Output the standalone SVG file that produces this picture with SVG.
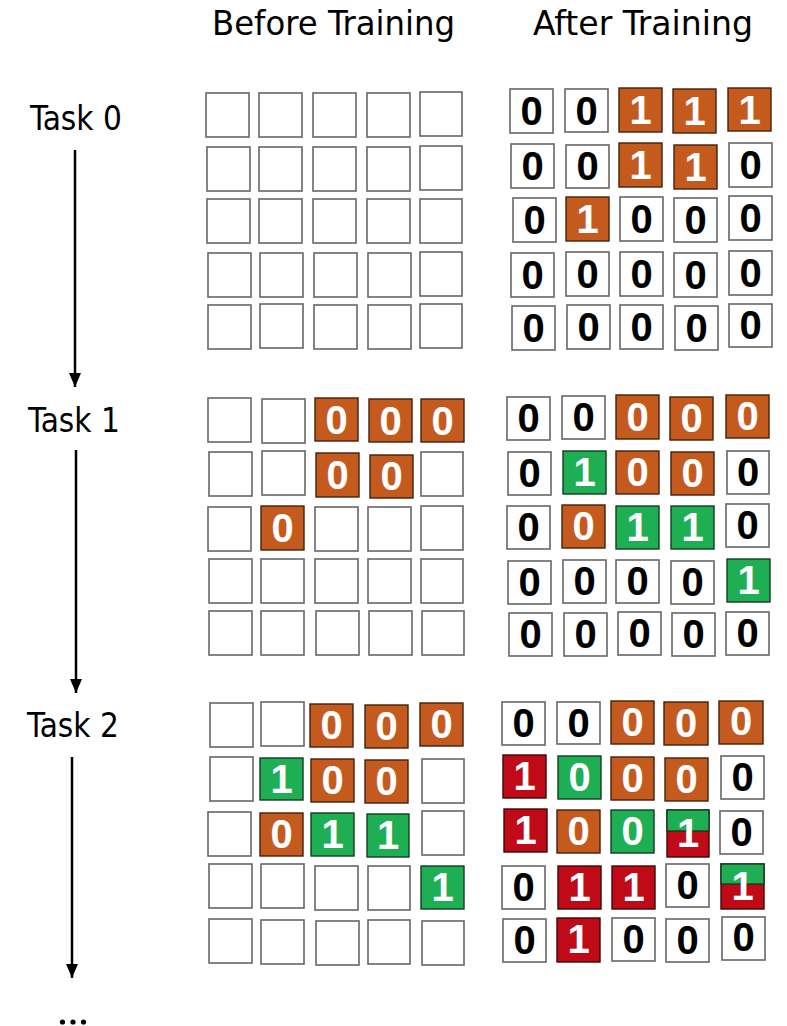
<svg xmlns="http://www.w3.org/2000/svg" width="787" height="1026" viewBox="0 0 787 1026">
<style>
.c{fill:#fff;stroke:#666;stroke-width:1.6}
.o{fill:#C55A1F;stroke:#40220c;stroke-width:1.4}
.g{fill:#1EAF55;stroke:#173a22;stroke-width:1.4}
.r{fill:#C00A17;stroke:#3a0808;stroke-width:1.4}
.n{font-family:"Liberation Sans",Arial,Helvetica,sans-serif;font-size:40px;font-weight:bold;text-anchor:middle}
.k{fill:#000}
.w{fill:#fff}
.lab{font-family:"DejaVu Sans Condensed","DejaVu Sans",sans-serif;font-size:34px;fill:#000}
.task{font-family:"DejaVu Sans Condensed","DejaVu Sans",sans-serif;font-size:33px;fill:#000}
.arr{stroke:#000;stroke-width:2.5;fill:none}
</style>
<defs>
<marker id="ah" markerWidth="15" markerHeight="13" refX="14" refY="6" orient="auto" markerUnits="userSpaceOnUse"><path d="M0,0 L14,6 L0,12 z" fill="#000"/></marker>
</defs>
<rect width="787" height="1026" fill="#fff"/>

<g id="headers">
<text class="lab" x="212" y="35" textLength="243" lengthAdjust="spacingAndGlyphs">Before Training</text>
<text class="lab" x="533" y="35" textLength="220" lengthAdjust="spacingAndGlyphs">After Training</text>
</g>
<g id="task0-label"><text class="task" x="30" y="130">Task 0</text></g>
<g id="task1-label"><text class="task" x="28" y="432">Task 1</text></g>
<g id="task2-label"><text class="task" x="27" y="737">Task 2</text></g>
<g id="ellipsis"><circle cx="62.5" cy="1022" r="2.6"/><circle cx="73" cy="1022" r="2.6"/><circle cx="83.5" cy="1022" r="2.6"/></g>

<g id="connectors">
<line class="arr" x1="75" y1="150" x2="75" y2="387" marker-end="url(#ah)"/>
<line class="arr" x1="76" y1="450" x2="76" y2="693" marker-end="url(#ah)"/>
<line class="arr" x1="72" y1="757" x2="72" y2="978" marker-end="url(#ah)"/>
</g>

<!-- Task 0 before -->
<g id="t0-before">
<g id="t0b-r1"><rect class="c" x="206" y="93" width="43" height="44"/><rect class="c" x="259" y="93" width="43" height="44"/><rect class="c" x="313" y="93" width="43" height="44"/><rect class="c" x="367" y="93" width="43" height="44"/><rect class="c" x="420" y="92" width="42" height="44"/></g>
<g id="t0b-r2"><rect class="c" x="207" y="147" width="43" height="44"/><rect class="c" x="259" y="147" width="43" height="44"/><rect class="c" x="313" y="147" width="43" height="44"/><rect class="c" x="367" y="147" width="43" height="44"/><rect class="c" x="420" y="146" width="42" height="44"/></g>
<g id="t0b-r3"><rect class="c" x="207" y="199" width="43" height="44"/><rect class="c" x="259" y="199" width="43" height="44"/><rect class="c" x="313" y="199" width="43" height="44"/><rect class="c" x="367" y="199" width="43" height="44"/><rect class="c" x="420" y="199" width="42" height="44"/></g>
<g id="t0b-r4"><rect class="c" x="208" y="253" width="43" height="44"/><rect class="c" x="260" y="253" width="43" height="44"/><rect class="c" x="314" y="253" width="43" height="44"/><rect class="c" x="368" y="253" width="43" height="44"/><rect class="c" x="420" y="252" width="42" height="44"/></g>
<g id="t0b-r5"><rect class="c" x="208" y="305" width="43" height="44"/><rect class="c" x="260" y="304" width="43" height="44"/><rect class="c" x="314" y="305" width="43" height="44"/><rect class="c" x="368" y="305" width="43" height="44"/><rect class="c" x="420" y="304" width="42" height="44"/></g>
</g>

<!-- Task 0 after -->
<g id="t0-after">
<g id="t0a-r1c1"><rect class="c" x="510" y="89" width="43" height="44"/><text class="n k" x="531.5" y="125">0</text></g>
<g id="t0a-r1c2"><rect class="c" x="565" y="89" width="43" height="43"/><text class="n k" x="586.5" y="125">0</text></g>
<g id="t0a-r1c3"><rect class="o" x="619" y="88" width="43" height="44"/><text class="n w" x="640.5" y="124">1</text></g>
<g id="t0a-r1c4"><rect class="o" x="673" y="89" width="43" height="44"/><text class="n w" x="694.5" y="125">1</text></g>
<g id="t0a-r1c5"><rect class="o" x="728" y="88" width="43" height="43"/><text class="n w" x="749.5" y="124">1</text></g>
<g id="t0a-r2c1"><rect class="c" x="511" y="144" width="43" height="44"/><text class="n k" x="532.5" y="180">0</text></g>
<g id="t0a-r2c2"><rect class="c" x="566" y="145" width="43" height="43"/><text class="n k" x="587.5" y="180">0</text></g>
<g id="t0a-r2c3"><rect class="o" x="619" y="143" width="43" height="44"/><text class="n w" x="640.5" y="179">1</text></g>
<g id="t0a-r2c4"><rect class="o" x="674" y="145" width="43" height="44"/><text class="n w" x="695.5" y="181">1</text></g>
<g id="t0a-r2c5"><rect class="c" x="729" y="143" width="43" height="44"/><text class="n k" x="750.5" y="179">0</text></g>
<g id="t0a-r3c1"><rect class="c" x="513" y="198" width="43" height="44"/><text class="n k" x="534.5" y="234">0</text></g>
<g id="t0a-r3c2"><rect class="o" x="566" y="197" width="43" height="44"/><text class="n w" x="587.5" y="233">1</text></g>
<g id="t0a-r3c3"><rect class="c" x="620" y="197" width="43" height="44"/><text class="n k" x="641.5" y="233">0</text></g>
<g id="t0a-r3c4"><rect class="c" x="674" y="198" width="43" height="44"/><text class="n k" x="695.5" y="234">0</text></g>
<g id="t0a-r3c5"><rect class="c" x="729" y="196" width="43" height="44"/><text class="n k" x="750.5" y="232">0</text></g>
<g id="t0a-r4c1"><rect class="c" x="511" y="253" width="43" height="44"/><text class="n k" x="532.5" y="289">0</text></g>
<g id="t0a-r4c2"><rect class="c" x="566" y="252" width="43" height="44"/><text class="n k" x="587.5" y="288">0</text></g>
<g id="t0a-r4c3"><rect class="c" x="620" y="252" width="43" height="44"/><text class="n k" x="641.5" y="288">0</text></g>
<g id="t0a-r4c4"><rect class="c" x="674" y="253" width="43" height="44"/><text class="n k" x="695.5" y="289">0</text></g>
<g id="t0a-r4c5"><rect class="c" x="729" y="251" width="43" height="44"/><text class="n k" x="750.5" y="287">0</text></g>
<g id="t0a-r5c1"><rect class="c" x="512" y="306" width="43" height="44"/><text class="n k" x="533.5" y="342">0</text></g>
<g id="t0a-r5c2"><rect class="c" x="567" y="305" width="43" height="44"/><text class="n k" x="588.5" y="341">0</text></g>
<g id="t0a-r5c3"><rect class="c" x="620" y="305" width="43" height="44"/><text class="n k" x="641.5" y="341">0</text></g>
<g id="t0a-r5c4"><rect class="c" x="675" y="306" width="43" height="44"/><text class="n k" x="696.5" y="342">0</text></g>
<g id="t0a-r5c5"><rect class="c" x="729" y="304" width="43" height="43"/><text class="n k" x="750.5" y="339">0</text></g>
</g>

<!-- Task 1 before -->
<g id="t1-before">
<g id="t1b-r1c1"><rect class="c" x="208" y="398" width="43" height="44"/></g>
<g id="t1b-r1c2"><rect class="c" x="262" y="399" width="43" height="44"/></g>
<g id="t1b-r1c3"><rect class="o" x="315" y="398" width="43" height="43"/><text class="n w" x="336.5" y="434">0</text></g>
<g id="t1b-r1c4"><rect class="o" x="369" y="399" width="43" height="43"/><text class="n w" x="390.5" y="435">0</text></g>
<g id="t1b-r1c5"><rect class="o" x="421" y="399" width="43" height="43"/><text class="n w" x="442.5" y="435">0</text></g>
<g id="t1b-r2c1"><rect class="c" x="209" y="452" width="43" height="44"/></g>
<g id="t1b-r2c2"><rect class="c" x="262" y="451" width="43" height="44"/></g>
<g id="t1b-r2c3"><rect class="o" x="316" y="453" width="43" height="44"/><text class="n w" x="337.5" y="489">0</text></g>
<g id="t1b-r2c4"><rect class="o" x="370" y="455" width="43" height="43"/><text class="n w" x="391.5" y="490">0</text></g>
<g id="t1b-r2c5"><rect class="c" x="421" y="452" width="42" height="44"/></g>
<g id="t1b-r3c1"><rect class="c" x="208" y="507" width="43" height="44"/></g>
<g id="t1b-r3c2"><rect class="o" x="261" y="506" width="43" height="44"/><text class="n w" x="282.5" y="542">0</text></g>
<g id="t1b-r3c3"><rect class="c" x="315" y="507" width="43" height="44"/></g>
<g id="t1b-r3c4"><rect class="c" x="368" y="507" width="43" height="44"/></g>
<g id="t1b-r3c5"><rect class="c" x="421" y="506" width="42" height="44"/></g>
<g id="t1b-r4c1"><rect class="c" x="209" y="559" width="43" height="44"/></g>
<g id="t1b-r4c2"><rect class="c" x="261" y="559" width="43" height="44"/></g>
<g id="t1b-r4c3"><rect class="c" x="315" y="559" width="43" height="44"/></g>
<g id="t1b-r4c4"><rect class="c" x="368" y="559" width="43" height="44"/></g>
<g id="t1b-r4c5"><rect class="c" x="421" y="559" width="42" height="44"/></g>
<g id="t1b-r5c1"><rect class="c" x="209" y="611" width="43" height="44"/></g>
<g id="t1b-r5c2"><rect class="c" x="261" y="611" width="43" height="44"/></g>
<g id="t1b-r5c3"><rect class="c" x="316" y="611" width="43" height="44"/></g>
<g id="t1b-r5c4"><rect class="c" x="369" y="611" width="43" height="44"/></g>
<g id="t1b-r5c5"><rect class="c" x="422" y="611" width="42" height="44"/></g>
</g>

<!-- Task 1 after -->
<g id="t1-after">
<g id="t1a-r1c1"><rect class="c" x="507" y="397" width="43" height="43"/><text class="n k" x="528.5" y="432">0</text></g>
<g id="t1a-r1c2"><rect class="c" x="562" y="396" width="43" height="43"/><text class="n k" x="583.5" y="431">0</text></g>
<g id="t1a-r1c3"><rect class="o" x="616" y="395" width="43" height="44"/><text class="n w" x="637.5" y="431">0</text></g>
<g id="t1a-r1c4"><rect class="o" x="670" y="397" width="43" height="43"/><text class="n w" x="691.5" y="432">0</text></g>
<g id="t1a-r1c5"><rect class="o" x="726" y="395" width="43" height="43"/><text class="n w" x="747.5" y="430">0</text></g>
<g id="t1a-r2c1"><rect class="c" x="508" y="452" width="43" height="43"/><text class="n k" x="529.5" y="487">0</text></g>
<g id="t1a-r2c2"><rect class="g" x="563" y="451" width="43" height="43"/><text class="n w" x="584.5" y="486">1</text></g>
<g id="t1a-r2c3"><rect class="o" x="616" y="451" width="43" height="43"/><text class="n w" x="637.5" y="486">0</text></g>
<g id="t1a-r2c4"><rect class="o" x="671" y="452" width="43" height="43"/><text class="n w" x="692.5" y="487">0</text></g>
<g id="t1a-r2c5"><rect class="c" x="727" y="451" width="42" height="43"/><text class="n k" x="748" y="486">0</text></g>
<g id="t1a-r3c1"><rect class="c" x="507" y="506" width="43" height="43"/><text class="n k" x="528.5" y="541">0</text></g>
<g id="t1a-r3c2"><rect class="o" x="562" y="505" width="43" height="43"/><text class="n w" x="583.5" y="540">0</text></g>
<g id="t1a-r3c3"><rect class="g" x="616" y="506" width="43" height="43"/><text class="n w" x="637.5" y="541">1</text></g>
<g id="t1a-r3c4"><rect class="g" x="671" y="506" width="43" height="43"/><text class="n w" x="692.5" y="541">1</text></g>
<g id="t1a-r3c5"><rect class="c" x="726" y="504" width="43" height="43"/><text class="n k" x="747.5" y="539">0</text></g>
<g id="t1a-r4c1"><rect class="c" x="508" y="561" width="43" height="43"/><text class="n k" x="529.5" y="596">0</text></g>
<g id="t1a-r4c2"><rect class="c" x="563" y="560" width="43" height="43"/><text class="n k" x="584.5" y="595">0</text></g>
<g id="t1a-r4c3"><rect class="c" x="616" y="560" width="43" height="43"/><text class="n k" x="637.5" y="595">0</text></g>
<g id="t1a-r4c4"><rect class="c" x="671" y="561" width="43" height="43"/><text class="n k" x="692.5" y="596">0</text></g>
<g id="t1a-r4c5"><rect class="g" x="727" y="559" width="43" height="43"/><text class="n w" x="748.5" y="594">1</text></g>
<g id="t1a-r5c1"><rect class="c" x="509" y="613" width="43" height="43"/><text class="n k" x="530.5" y="648">0</text></g>
<g id="t1a-r5c2"><rect class="c" x="564" y="613" width="43" height="43"/><text class="n k" x="585.5" y="648">0</text></g>
<g id="t1a-r5c3"><rect class="c" x="618" y="612" width="43" height="43"/><text class="n k" x="639.5" y="647">0</text></g>
<g id="t1a-r5c4"><rect class="c" x="672" y="613" width="43" height="43"/><text class="n k" x="693.5" y="648">0</text></g>
<g id="t1a-r5c5"><rect class="c" x="726" y="612" width="43" height="43"/><text class="n k" x="747.5" y="647">0</text></g>
</g>

<!-- Task 2 before -->
<g id="t2-before">
<g id="t2b-r1c1"><rect class="c" x="210" y="703" width="43" height="44"/></g>
<g id="t2b-r1c2"><rect class="c" x="261" y="702" width="43" height="44"/></g>
<g id="t2b-r1c3"><rect class="o" x="310" y="704" width="43" height="43"/><text class="n w" x="331.5" y="739">0</text></g>
<g id="t2b-r1c4"><rect class="o" x="365" y="705" width="43" height="43"/><text class="n w" x="386.5" y="740">0</text></g>
<g id="t2b-r1c5"><rect class="o" x="420" y="703" width="43" height="43"/><text class="n w" x="441.5" y="738">0</text></g>
<g id="t2b-r2c1"><rect class="c" x="210" y="757" width="43" height="44"/></g>
<g id="t2b-r2c2"><rect class="g" x="260" y="758" width="43" height="42"/><text class="n w" x="281.5" y="793">1</text></g>
<g id="t2b-r2c3"><rect class="o" x="311" y="759" width="43" height="43"/><text class="n w" x="332.5" y="794">0</text></g>
<g id="t2b-r2c4"><rect class="o" x="365" y="760" width="43" height="43"/><text class="n w" x="386.5" y="795">0</text></g>
<g id="t2b-r2c5"><rect class="c" x="422" y="759" width="42" height="44"/></g>
<g id="t2b-r3c1"><rect class="c" x="208" y="812" width="43" height="44"/></g>
<g id="t2b-r3c2"><rect class="o" x="260" y="813" width="43" height="43"/><text class="n w" x="281.5" y="848">0</text></g>
<g id="t2b-r3c3"><rect class="g" x="311" y="813" width="43" height="43"/><text class="n w" x="332.5" y="848">1</text></g>
<g id="t2b-r3c4"><rect class="g" x="367" y="814" width="42" height="43"/><text class="n w" x="388" y="849">1</text></g>
<g id="t2b-r3c5"><rect class="c" x="422" y="811" width="42" height="44"/></g>
<g id="t2b-r4c1"><rect class="c" x="209" y="864" width="43" height="44"/></g>
<g id="t2b-r4c2"><rect class="c" x="261" y="864" width="43" height="44"/></g>
<g id="t2b-r4c3"><rect class="c" x="315" y="866" width="43" height="44"/></g>
<g id="t2b-r4c4"><rect class="c" x="368" y="866" width="42" height="44"/></g>
<g id="t2b-r4c5"><rect class="g" x="421" y="866" width="43" height="43"/><text class="n w" x="442.5" y="901">1</text></g>
<g id="t2b-r5c1"><rect class="c" x="209" y="919" width="43" height="44"/></g>
<g id="t2b-r5c2"><rect class="c" x="261" y="920" width="43" height="44"/></g>
<g id="t2b-r5c3"><rect class="c" x="316" y="921" width="43" height="44"/></g>
<g id="t2b-r5c4"><rect class="c" x="368" y="920" width="42" height="44"/></g>
<g id="t2b-r5c5"><rect class="c" x="422" y="921" width="42" height="44"/></g>
</g>

<!-- Task 2 after -->
<g id="t2-after">
<g id="t2a-r1c1"><rect class="c" x="502" y="702" width="43" height="43"/><text class="n k" x="523.5" y="737">0</text></g>
<g id="t2a-r1c2"><rect class="c" x="557" y="702" width="43" height="42"/><text class="n k" x="578.5" y="737">0</text></g>
<g id="t2a-r1c3"><rect class="o" x="611" y="701" width="43" height="43"/><text class="n w" x="632.5" y="736">0</text></g>
<g id="t2a-r1c4"><rect class="o" x="664" y="702" width="44" height="43"/><text class="n w" x="686" y="737">0</text></g>
<g id="t2a-r1c5"><rect class="o" x="719" y="701" width="44" height="43"/><text class="n w" x="741" y="735">0</text></g>
<g id="t2a-r2c1"><rect class="r" x="503" y="755" width="43" height="43"/><text class="n w" x="524.5" y="790">1</text></g>
<g id="t2a-r2c2"><rect class="g" x="558" y="756" width="43" height="43"/><text class="n w" x="579.5" y="791">0</text></g>
<g id="t2a-r2c3"><rect class="o" x="611" y="757" width="43" height="43"/><text class="n w" x="632.5" y="792">0</text></g>
<g id="t2a-r2c4"><rect class="o" x="665" y="758" width="43" height="43"/><text class="n w" x="686.5" y="793">0</text></g>
<g id="t2a-r2c5"><rect class="c" x="721" y="756" width="43" height="43"/><text class="n k" x="742.5" y="791">0</text></g>
<g id="t2a-r3c1"><rect class="r" x="504" y="809" width="43" height="43"/><text class="n w" x="525.5" y="844">1</text></g>
<g id="t2a-r3c2"><rect class="o" x="557" y="810" width="43" height="43"/><text class="n w" x="578.5" y="845">0</text></g>
<g id="t2a-r3c3"><rect class="g" x="611" y="810" width="43" height="43"/><text class="n w" x="632.5" y="845">0</text></g>
<g id="t2a-r3c4"><rect class="r" x="667" y="810" width="42" height="47"/><rect class="g" x="667" y="810" width="42" height="21"/><text class="n w" x="688" y="847">1</text></g>
<g id="t2a-r3c5"><rect class="c" x="720" y="811" width="43" height="43"/><text class="n k" x="741.5" y="846">0</text></g>
<g id="t2a-r4c1"><rect class="c" x="502" y="866" width="43" height="43"/><text class="n k" x="523.5" y="901">0</text></g>
<g id="t2a-r4c2"><rect class="r" x="558" y="866" width="43" height="43"/><text class="n w" x="579.5" y="901">1</text></g>
<g id="t2a-r4c3"><rect class="r" x="612" y="866" width="43" height="43"/><text class="n w" x="633.5" y="901">1</text></g>
<g id="t2a-r4c4"><rect class="c" x="666" y="864" width="43" height="43"/><text class="n k" x="687.5" y="899">0</text></g>
<g id="t2a-r4c5"><rect class="r" x="721" y="864" width="43" height="45"/><rect class="g" x="721" y="864" width="43" height="20"/><text class="n w" x="742.5" y="900">1</text></g>
<g id="t2a-r5c1"><rect class="c" x="503" y="919" width="43" height="43"/><text class="n k" x="524.5" y="954">0</text></g>
<g id="t2a-r5c2"><rect class="r" x="557" y="918" width="43" height="44"/><text class="n w" x="578.5" y="953">1</text></g>
<g id="t2a-r5c3"><rect class="c" x="612" y="918" width="43" height="43"/><text class="n k" x="633.5" y="953">0</text></g>
<g id="t2a-r5c4"><rect class="c" x="666" y="919" width="43" height="43"/><text class="n k" x="687.5" y="954">0</text></g>
<g id="t2a-r5c5"><rect class="c" x="722" y="917" width="43" height="43"/><text class="n k" x="743.5" y="951">0</text></g>
</g>
</svg>
